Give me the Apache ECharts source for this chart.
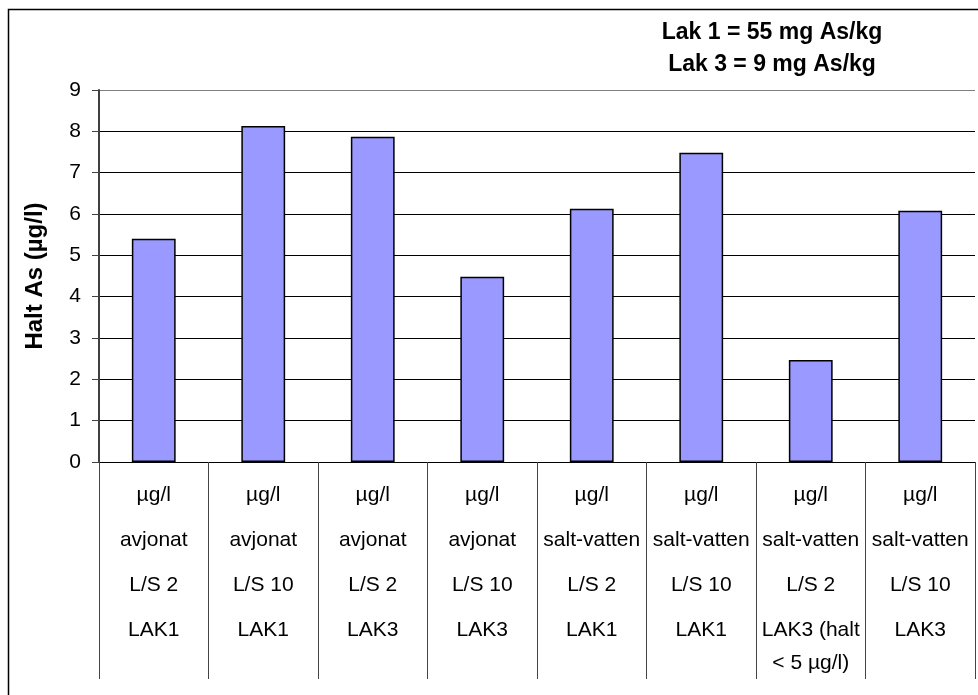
<!DOCTYPE html>
<html>
<head>
<meta charset="utf-8">
<script src="https://cdn.jsdelivr.net/npm/echarts@6/dist/echarts.min.js"></script>
<style>
  html, body { margin: 0; padding: 0; background: #fff; }
  #chart { width: 978px; height: 695px; }
</style>
</head>
<body>
<div id="chart"></div>
<script>
// category table rows (one entry per bar)
const unitRow = ["µg/l", "µg/l", "µg/l", "µg/l", "µg/l", "µg/l", "µg/l", "µg/l"];
const mediumRow = ["avjonat", "avjonat", "avjonat", "avjonat", "salt-vatten", "salt-vatten", "salt-vatten", "salt-vatten"];
const lsRow = ["L/S 2", "L/S 10", "L/S 2", "L/S 10", "L/S 2", "L/S 10", "L/S 2", "L/S 10"];
const lakRow = ["LAK1", "LAK1", "LAK3", "LAK3", "LAK1", "LAK1", "LAK3 (halt\n< 5 µg/l)", "LAK3"];

const haltAs = [5.4, 8.13, 7.87, 4.48, 6.13, 7.48, 2.47, 6.08];
const yTicks = [0, 1, 2, 3, 4, 5, 6, 7, 8, 9];

const titleLines = ["Lak 1 = 55 mg As/kg", "Lak 3 = 9 mg As/kg"];

const FONT = "Arial, 'Liberation Sans', sans-serif";

const categories = unitRow.map((u, i) => [u, mediumRow[i], lsRow[i], lakRow[i]].join("\n"));

// grid lines black, top one grey like the plot-area border
const splitColors = yTicks.map((v, i) => (i === yTicks.length - 1 ? "#808080" : "#000000"));

const chart = echarts.init(document.getElementById("chart"));

const option = {
  animation: false,
  backgroundColor: "#ffffff",
  title: {
    text: titleLines.join("\n"),
    left: 767,
    top: 12,
    textAlign: "center",
    textStyle: {
      fontFamily: FONT,
      fontSize: 23,
      fontWeight: "bold",
      color: "#000",
      lineHeight: 32,
    },
  },
  graphic: [
    {
      type: "rect",
      shape: { x: 8.5, y: 9.5, width: 1000, height: 1000 },
      style: { fill: null, stroke: "#000", lineWidth: 1.5 },
      silent: true,
    },
  ],
  grid: {
    left: 99,
    right: 3,
    top: 90,
    bottom: 233,
  },
  xAxis: {
    type: "category",
    data: categories,
    axisLine: { lineStyle: { color: "#000", width: 1 } },
    axisTick: {
      show: true,
      alignWithLabel: false,
      length: 217,
      lineStyle: { color: "#444", width: 1 },
    },
    axisLabel: {
      interval: 0,
      margin: 11,
      formatter: (value) => {
        const lines = value.split("\n");
        return lines
          .map((line, i) => (i < 4 ? "{r|" + line + "}" : "{w|" + line + "}"))
          .join("\n");
      },
      rich: {
        r: { fontFamily: FONT, fontSize: 21, color: "#000", lineHeight: 45, align: "center" },
        w: { fontFamily: FONT, fontSize: 21, color: "#000", lineHeight: 20, align: "center" },
      },
    },
  },
  yAxis: {
    type: "value",
    min: yTicks[0],
    max: yTicks[yTicks.length - 1],
    interval: 1,
    name: "Halt As (µg/l)",
    nameLocation: "middle",
    nameGap: 52,
    nameTextStyle: {
      fontFamily: FONT,
      fontSize: 24,
      fontWeight: "bold",
      color: "#000",
    },
    axisLine: { show: true, lineStyle: { color: "#404040", width: 2 } },
    axisTick: { show: true, length: 7, lineStyle: { color: "#404040", width: 1 } },
    axisLabel: {
      fontFamily: FONT,
      fontSize: 21,
      color: "#000",
      margin: 18,
    },
    splitLine: { show: true, lineStyle: { color: splitColors, width: 1 } },
  },
  series: [
    {
      type: "bar",
      data: haltAs,
      barWidth: "40%",
      itemStyle: { color: "#9999FF", borderColor: "#000", borderWidth: 1.5 },
    },
  ],
};

chart.setOption(option);
</script>
</body>
</html>
